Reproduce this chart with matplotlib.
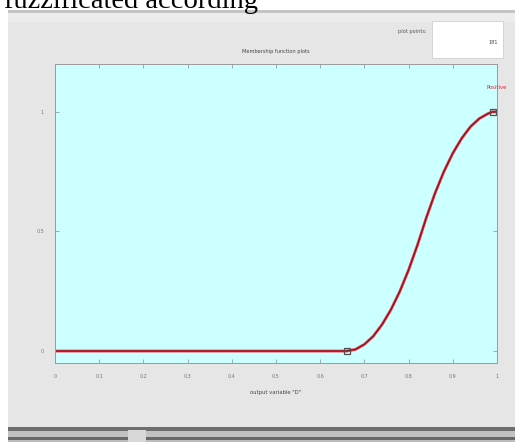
import matplotlib
matplotlib.use("Agg")
import matplotlib.pyplot as plt
from matplotlib.patches import Rectangle

W, H = 515, 442

# membership function "Positive" on output variable D
mf_x = [0, 0.66, 0.68, 0.70, 0.72, 0.74, 0.76, 0.78, 0.80, 0.82, 0.84,
        0.86, 0.88, 0.90, 0.92, 0.94, 0.96, 0.98, 0.99, 1.0]
mf_y = [0, 0, 0.007, 0.028, 0.062, 0.111, 0.173, 0.249, 0.339, 0.443, 0.557,
        0.661, 0.751, 0.827, 0.889, 0.938, 0.972, 0.993, 1.0, 1.0]
param_x = [0.66, 0.99]
param_y = [0, 1]
mf_name = "Positive"

x_ticks = [0, 0.1, 0.2, 0.3, 0.4, 0.5, 0.6, 0.7, 0.8, 0.9, 1]
x_labels = ["0", "0.1", "0.2", "0.3", "0.4", "0.5", "0.6", "0.7", "0.8", "0.9", "1"]
y_ticks = [0, 0.5, 1]
y_labels = ["0", "0.5", "1"]
plot_points = "181"


def box(x0, y0, x1, y1):
    """pixel box (top-left origin) -> figure fraction rect"""
    return (x0 / W, 1 - y1 / H), (x1 - x0) / W, (y1 - y0) / H


fig = plt.figure(figsize=(W / 100, H / 100), dpi=100)
fig.patch.set_facecolor("white")

"""window background and borders"""
for (x0, y0, x1, y1, c) in [
    (8, 10, W, 427, "#e6e6e6"),
    (8, 10, W, 13, "#c4c4c4"),
    (8, 13, W, 22, "#ececec"),
    (8, 427, W, 431, "#6e6e6e"),
    (8, 431, W, 437, "#c2c2c2"),
    (8, 437, W, 440, "#6a6a6a"),
    (8, 440, W, H, "#bdbdbd"),
    (128, 430, 146, H, "#d8d8d8"),
]:
    xy, w, h = box(x0, y0, x1, y1)
    fig.patches.append(Rectangle(xy, w, h, transform=fig.transFigure,
                                 facecolor=c, edgecolor="none", zorder=-5))

fig.text(4 / W, 1 - 8 / H, "fuzzificated according", family="Liberation Serif",
         fontsize=20.5, va="baseline", ha="left", color="black")

"""plot points box"""
xy, w, h = box(432, 21, 503, 58)
fig.patches.append(Rectangle(xy, w, h, transform=fig.transFigure,
                             facecolor="white", edgecolor="#d0d0d0", lw=0.6, zorder=-4))
fig.text(426 / W, 1 - 31 / H, "plot points:", fontsize=3.6, ha="right",
         va="center", color="#555555")
fig.text(498 / W, 1 - 42 / H, plot_points, fontsize=3.6, ha="right",
         va="center", color="#444444")

xy, w, h = box(55, 64, 497, 363)
ax = fig.add_axes([xy[0], xy[1], w, h])
ax.set_zorder(5)
ax.set_facecolor("#ccffff")
ax.set_xlim(0, 1)
ax.set_ylim(-0.05, 1.2)

ax.plot(mf_x, mf_y, color="#e8202e", lw=2.0, alpha=0.9, solid_joinstyle="round")
ax.plot(mf_x, mf_y, color="#7a0a18", lw=0.7, solid_joinstyle="round")
ax.plot(param_x, param_y, "s", ms=5, mfc="none", mec="#505050", mew=0.9)
ax.text(1.0, 1.1, mf_name, color="#e8202e", fontsize=3.8, ha="center",
        va="center", clip_on=False)

ax.set_xticks(x_ticks)
ax.set_xticklabels(x_labels)
ax.set_yticks(y_ticks)
ax.set_yticklabels(y_labels)
ax.tick_params(direction="in", length=3, width=0.5, colors="#888888",
               labelsize=3.5, labelcolor="#777777", top=True, right=True, pad=8)
for s in ax.spines.values():
    s.set_color("#9a9a9a")
    s.set_linewidth(0.7)

ax.set_title("Membership function plots", fontsize=3.6, color="#444444", pad=8)
ax.set_xlabel('output variable "D"', fontsize=3.8, color="#444444", labelpad=8)

fig.savefig("out.png", dpi=100)
